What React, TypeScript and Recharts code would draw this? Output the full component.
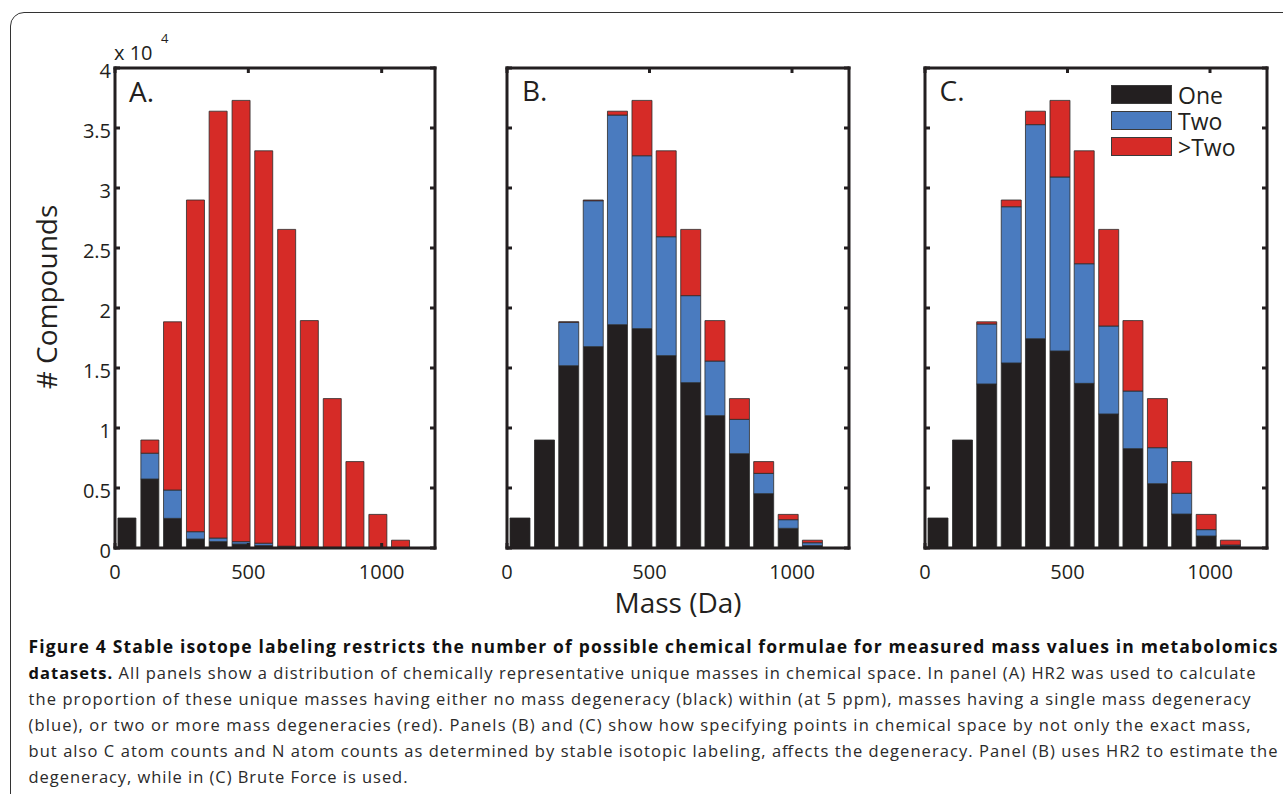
import React from 'react';
import { BarChart, Bar, XAxis, YAxis, Legend } from 'recharts';

// ---------- data ----------
const binCenters = [46, 132, 217, 303, 388, 474, 559, 645, 730, 816, 901, 987, 1072];
const xTicks = [0, 500, 1000];
const yTicks = [0, 5000, 10000, 15000, 20000, 25000, 30000, 35000, 40000];

const seriesKeys = ['one', 'two', 'more'];
const seriesNames = ['One', 'Two', '>Two'];
const seriesColors = ['#231f20', '#4a7bbf', '#d62b27'];

const panelAOne = [2500, 5750, 2470, 750, 530, 330, 200, 100, 50, 30, 20, 10, 0];
const panelATwo = [0, 2150, 2360, 610, 300, 200, 200, 50, 30, 20, 10, 0, 0];
const panelAMore = [0, 1100, 14020, 27640, 35570, 36770, 32700, 26400, 18870, 12400, 7170, 2790, 650];

const panelBOne = [2500, 9000, 15190, 16780, 18610, 18280, 16030, 13780, 11030, 7860, 4530, 1640, 200];
const panelBTwo = [0, 0, 3620, 12160, 17470, 14410, 9910, 7250, 4550, 2860, 1690, 720, 240];
const panelBMore = [0, 0, 40, 60, 320, 4610, 7160, 5520, 3370, 1730, 980, 440, 210];

const panelCOne = [2500, 9000, 13670, 15420, 17440, 16420, 13720, 11170, 8280, 5360, 2830, 1000, 170];
const panelCTwo = [0, 0, 5000, 13020, 17840, 14500, 9970, 7330, 4800, 3000, 1730, 530, 80];
const panelCMore = [0, 0, 180, 560, 1120, 6380, 9410, 8050, 5870, 4090, 2640, 1270, 400];

const panelLetters = ['A.', 'B.', 'C.'];
const xAxisTitle = 'Mass (Da)';
const yAxisTitle = '# Compounds';

const captionLines = [
  { bold: 'Figure 4 Stable isotope labeling restricts the number of possible chemical formulae for measured mass values in metabolomics', rest: '' },
  { bold: 'datasets.', rest: ' All panels show a distribution of chemically representative unique masses in chemical space. In panel (A) HR2 was used to calculate' },
  { bold: '', rest: 'the proportion of these unique masses having either no mass degeneracy (black) within (at 5 ppm), masses having a single mass degeneracy' },
  { bold: '', rest: '(blue), or two or more mass degeneracies (red). Panels (B) and (C) show how specifying points in chemical space by not only the exact mass,' },
  { bold: '', rest: 'but also C atom counts and N atom counts as determined by stable isotopic labeling, affects the degeneracy. Panel (B) uses HR2 to estimate the' },
  { bold: '', rest: 'degeneracy, while in (C) Brute Force is used.' },
];
const captionWidths = [1249, 1227, 1222, 1222, 1249, 379];

const makeData = (one: number[], two: number[], more: number[]) =>
  binCenters.map((m, i) => ({ mass: m, one: one[i], two: two[i], more: more[i] }));

const dataA = makeData(panelAOne, panelATwo, panelAMore);
const dataB = makeData(panelBOne, panelBTwo, panelBMore);
const dataC = makeData(panelCOne, panelCTwo, panelCMore);

// ---------- styles ----------
const INK = '#231f20';
const FONT = "'Open Sans', sans-serif";
const frameLine = { stroke: INK, strokeWidth: 3, strokeLinecap: 'square' as const };
const TICK_LEN = 5;
const TICK_W = 3;

// inward tick marks (MATLAB style), drawn at the axis' own tick coordinate
const BottomTick = ({ x, y, payload }: any) => (
  <g>
    <line x1={x} y1={y} x2={x} y2={y - TICK_LEN} stroke={INK} strokeWidth={TICK_W} />
    <text x={x} y={y + 31} textAnchor="middle" fontSize={20} fill={INK} fontFamily={FONT}>
      {payload.value}
    </text>
  </g>
);
const TopTick = ({ x, y }: any) => (
  <line x1={x} y1={y} x2={x} y2={y + TICK_LEN} stroke={INK} strokeWidth={TICK_W} />
);
const LeftTickLabeled = ({ x, y, payload }: any) => (
  <g>
    <line x1={x} y1={y} x2={x + TICK_LEN} y2={y} stroke={INK} strokeWidth={TICK_W} />
    <text x={x - 4} y={y + 10.3} textAnchor="end" fontSize={20} fill={INK} fontFamily={FONT}>
      {String(payload.value / 10000)}
    </text>
  </g>
);
const LeftTickPlain = ({ x, y }: any) => (
  <line x1={x} y1={y} x2={x + TICK_LEN} y2={y} stroke={INK} strokeWidth={TICK_W} />
);
const RightTick = ({ x, y }: any) => (
  <line x1={x} y1={y} x2={x - TICK_LEN} y2={y} stroke={INK} strokeWidth={TICK_W} />
);

const LegendBox = () => (
  <div style={{ fontFamily: FONT, fontSize: 23, color: INK }}>
    {seriesNames.map((n, i) => (
      <div key={n} style={{ display: 'flex', alignItems: 'center', height: 26 }}>
        <span
          style={{
            display: 'inline-block',
            width: 61,
            height: 19,
            boxSizing: 'border-box',
            background: seriesColors[i],
            border: '1px solid #3a3a3a',
            marginRight: 6,
          }}
        />
        <span style={{ display: 'inline-block', height: 24, lineHeight: '24px', overflow: 'visible' }}>{n}</span>
      </div>
    ))}
  </div>
);

type PanelProps = {
  data: any[];
  left: number;
  width: number;
  marginLeft: number;
  yWidth: number;
  showYLabels: boolean;
  barSize: number;
  showXTitle: boolean;
  showLegend: boolean;
};

const Panel = ({ data, left, width, marginLeft, yWidth, showYLabels, barSize, showXTitle, showLegend }: PanelProps) => (
  <div style={{ position: 'absolute', left, top: 0 }}>
    <BarChart
      width={width}
      height={640}
      data={data}
      margin={{ top: 67, right: 4, bottom: 62, left: marginLeft }}
      style={{ overflow: 'visible' }}
    >
      <XAxis
        xAxisId="b"
        dataKey="mass"
        type="number"
        domain={[0, 1200]}
        ticks={xTicks}
        allowDataOverflow
        interval={0}
        orientation="bottom"
        height={30}
        tickSize={0}
        tickMargin={0}
        axisLine={frameLine}
        tickLine={false}
        tick={<BottomTick />}
        label={
          showXTitle
            ? { value: xAxisTitle, position: 'bottom', offset: 15, fontSize: 28, fill: INK, fontFamily: FONT }
            : undefined
        }
      />
      <XAxis
        xAxisId="t"
        dataKey="mass"
        type="number"
        domain={[0, 1200]}
        ticks={xTicks}
        allowDataOverflow
        interval={0}
        orientation="top"
        height={1}
        tickSize={0}
        tickMargin={0}
        axisLine={frameLine}
        tickLine={false}
        tick={<TopTick />}
      />
      <YAxis
        yAxisId="l"
        type="number"
        domain={[0, 40000]}
        ticks={yTicks}
        allowDataOverflow
        interval={0}
        width={yWidth}
        tickSize={0}
        tickMargin={0}
        axisLine={frameLine}
        tickLine={false}
        tick={showYLabels ? <LeftTickLabeled /> : <LeftTickPlain />}
        label={
          showYLabels
            ? {
                value: yAxisTitle,
                angle: -90,
                position: 'insideLeft',
                offset: 47,
                dy: -11,
                fontSize: 28,
                fill: INK,
                fontFamily: FONT,
                style: { textAnchor: 'middle' },
              }
            : undefined
        }
      />
      <YAxis
        yAxisId="r"
        orientation="right"
        type="number"
        domain={[0, 40000]}
        ticks={yTicks}
        allowDataOverflow
        interval={0}
        width={1}
        tickSize={0}
        tickMargin={0}
        axisLine={frameLine}
        tickLine={false}
        tick={<RightTick />}
      />
      {seriesKeys.map((k, i) => (
        <Bar
          key={k}
          xAxisId="b"
          yAxisId="l"
          dataKey={k}
          name={seriesNames[i]}
          stackId="s"
          fill={seriesColors[i]}
          stroke="#2b2b2b"
          strokeWidth={0.8}
          barSize={barSize}
          isAnimationActive={false}
        />
      ))}
      {showLegend && (
        <Legend
          layout="vertical"
          align="center"
          verticalAlign="middle"
          content={() => <LegendBox />}
          wrapperStyle={{ position: 'absolute', left: 193, top: 81.5, width: 150, height: 80 }}
        />
      )}
    </BarChart>
  </div>
);

export default function App() {
  return (
    <div
      style={{
        position: 'absolute',
        left: 0,
        top: 0,
        width: 1283,
        height: 794,
        overflow: 'hidden',
        background: '#fff',
        fontFamily: FONT,
      }}
    >
      <div
        style={{
          position: 'absolute',
          left: 10,
          top: 12,
          width: 1320,
          height: 820,
          border: '1.5px solid #333',
          borderRadius: 14,
        }}
      />
      <Panel data={dataA} left={0} width={440} marginLeft={0} yWidth={115} showYLabels barSize={18} showXTitle={false} showLegend={false} />
      <Panel data={dataB} left={500} width={354} marginLeft={6} yWidth={1} showYLabels={false} barSize={20} showXTitle showLegend={false} />
      <Panel data={dataC} left={918} width={354} marginLeft={6} yWidth={1} showYLabels={false} barSize={20} showXTitle={false} showLegend />
      <svg
        width={1283}
        height={794}
        style={{ position: 'absolute', left: 0, top: 0, pointerEvents: 'none' }}
      >
        <text x={114} y={59.5} fontSize={20} fill={INK} fontFamily={FONT}>x 10</text>
        <text x={161} y={43} fontSize={13} fill={INK} fontFamily={FONT}>4</text>
        <text x={129} y={101.5} fontSize={28} fill={INK} fontFamily={FONT}>{panelLetters[0]}</text>
        <text x={522} y={101} fontSize={28} fill={INK} fontFamily={FONT}>{panelLetters[1]}</text>
        <text x={939.5} y={101} fontSize={28} fill={INK} fontFamily={FONT}>{panelLetters[2]}</text>
        {captionLines.map((ln, i) => (
          <text
            key={i}
            x={28.5}
            y={653.3 + i * 25.9}
            fontSize={i === 0 ? 17.5 : 16.5}
            fontFamily={FONT}
            fill="#2a2a2a"
            textLength={captionWidths[i]}
            lengthAdjust="spacing"
          >
            {ln.bold && <tspan fontWeight={700} fill="#111">{ln.bold}</tspan>}
            {ln.rest && <tspan>{ln.rest}</tspan>}
          </text>
        ))}
      </svg>
    </div>
  );
}
